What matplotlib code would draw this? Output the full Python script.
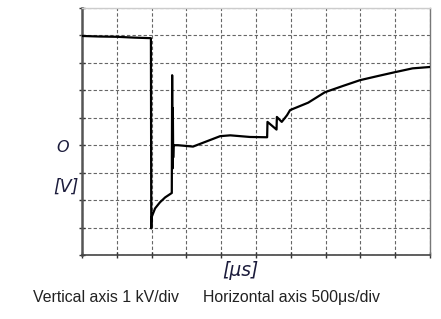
import matplotlib.pyplot as plt

plt.rcParams['font.family'] = ['Liberation Sans', 'DejaVu Sans']

# time in divisions (500 us/div), voltage in divisions (1 kV/div)
t_div = [0.00, 0.50, 1.00, 1.50, 1.98,
         1.99, 2.00, 2.10, 2.24, 2.39, 2.58,
         2.59, 2.60, 2.61, 2.62, 2.63, 2.76, 3.19, 3.97, 4.26, 4.83, 5.32,
         5.33, 5.59, 5.60, 5.74, 5.89, 5.98,
         6.50, 6.98, 7.50, 7.99, 8.50, 8.99, 9.50, 10.00]
v_div = [3.98, 3.96, 3.95, 3.92, 3.90,
         -3.03, -2.62, -2.30, -2.08, -1.90, -1.74,
         2.55, -0.85, 1.35, -0.45, 0.00, 0.00, -0.05, 0.33, 0.36, 0.30, 0.29,
         0.85, 0.57, 1.03, 0.85, 1.09, 1.28,
         1.55, 1.93, 2.16, 2.37, 2.52, 2.66, 2.80, 2.85]

x_ticks = list(range(0, 11))
y_ticks = list(range(-4, 6))

fig = plt.figure(figsize=(4.41, 3.19), dpi=100)
ax = fig.add_axes([0.186, 0.2006, 0.789, 0.7744])
ax.set_axisbelow(True)

ax.plot(t_div, v_div, color='black', lw=1.6, solid_joinstyle='round', zorder=3)

ax.set_xlim(0, 10)
ax.set_ylim(-4, 5)
ax.set_xticks(x_ticks)
ax.set_yticks(y_ticks)
ax.set_xticklabels([])
ax.set_yticklabels([])
ax.grid(True, color='#666666', lw=0.8, linestyle=(0, (3, 2)))
ax.tick_params(direction='inout', length=5, width=1, color='#333333')

ax.spines['left'].set_color('#555555')
ax.spines['left'].set_linewidth(1.8)
ax.spines['bottom'].set_color('#444444')
ax.spines['bottom'].set_linewidth(1.2)
ax.spines['right'].set_color('#777777')
ax.spines['right'].set_linewidth(1.0)
ax.spines['top'].set_color('#cccccc')
ax.spines['top'].set_linewidth(1.0)

lab_color = '#1c1c3c'
lab_font = ['DejaVu Sans']
ax.text(-0.57, -0.1, 'O', style='italic', fontsize=11.5, color=lab_color,
        family=lab_font, ha='center', va='center', clip_on=False)
ax.text(-0.46, -1.5, '[V]', style='italic', fontsize=12.5, color=lab_color,
        family=lab_font, ha='center', va='center', clip_on=False)
ax.text(4.54, -4.56, '[\u03bcs]', style='italic', fontsize=13.5, color=lab_color,
        family=lab_font, ha='center', va='center', clip_on=False)

fig.text(0.075, 0.066, 'Vertical axis 1 kV/div', fontsize=11.4, color='#222222',
         ha='left', va='center')
fig.text(0.46, 0.066, 'Horizontal axis 500\u03bcs/div', fontsize=11.4, color='#222222',
         ha='left', va='center')

fig.savefig('out.png', dpi=100)
